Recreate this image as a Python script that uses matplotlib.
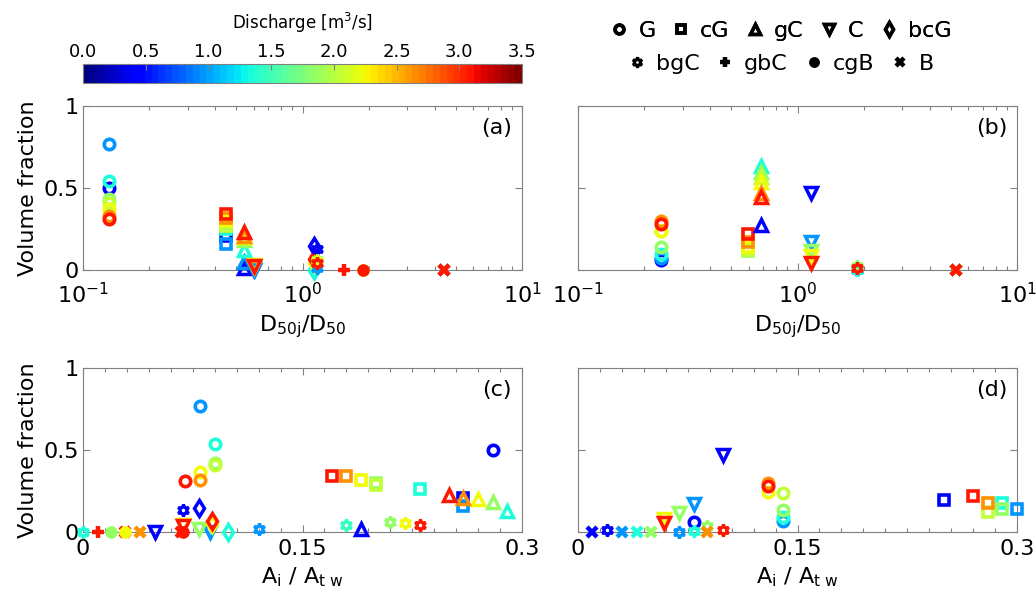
import numpy as np
import matplotlib
matplotlib.use('Agg')
import matplotlib.pyplot as plt
from matplotlib.colors import Normalize
from matplotlib.cm import ScalarMappable
from matplotlib.lines import Line2D
from matplotlib.ticker import MultipleLocator, FixedLocator, FixedFormatter, LogLocator, NullLocator, NullFormatter

plt.rcParams['font.family'] = ['DejaVu Sans']
plt.rcParams['mathtext.fontset'] = 'dejavusans'

# ---------------- data ----------------
classes = ['G', 'cG', 'gC', 'C', 'bcG', 'bgC', 'gbC', 'cgB', 'B']

# panel (a): D50j/D50 vs volume fraction
a_cls = ['G', 'G', 'G', 'G', 'G', 'G', 'G', 'G',
         'cG', 'cG', 'cG', 'cG', 'cG', 'cG', 'cG', 'cG',
         'gC', 'gC', 'gC', 'gC', 'gC', 'gC', 'gC',
         'C', 'C', 'C', 'C', 'C', 'C',
         'bcG', 'bcG', 'bcG', 'bcG', 'bcG',
         'bgC', 'bgC', 'bgC', 'bgC', 'bgC', 'bgC',
         'gbC',
         'cgB', 'cgB', 'cgB',
         'B', 'B', 'B']
a_x = [0.131, 0.131, 0.131, 0.131, 0.131, 0.131, 0.131, 0.131,
       0.447, 0.447, 0.447, 0.447, 0.447, 0.447, 0.447, 0.447,
       0.543, 0.543, 0.543, 0.543, 0.543, 0.543, 0.543,
       0.603, 0.603, 0.603, 0.603, 0.603, 0.603,
       1.13, 1.13, 1.13, 1.13, 1.13,
       1.16, 1.16, 1.16, 1.16, 1.16, 1.16,
       1.55,
       1.89, 1.89, 1.89,
       4.4, 4.4, 4.4]
a_y = [0.50, 0.77, 0.54, 0.43, 0.41, 0.37, 0.33, 0.31,
       0.21, 0.16, 0.25, 0.28, 0.27, 0.30, 0.32, 0.34,
       0.01, 0.05, 0.12, 0.18, 0.20, 0.21, 0.23,
       0.00, 0.00, 0.02, 0.03, 0.02, 0.025,
       0.145, 0.00, 0.00, 0.045, 0.065,
       0.13, 0.015, 0.04, 0.06, 0.055, 0.04,
       0.00,
       0.00, 0.00, 0.00,
       0.00, 0.00, 0.00]
a_q = [0.4, 0.95, 1.35, 1.85, 2.05, 2.25, 2.65, 3.1,
       0.4, 0.95, 1.35, 1.85, 2.05, 2.25, 2.65, 3.1,
       0.4, 0.95, 1.35, 1.85, 2.25, 2.65, 3.1,
       0.4, 0.95, 1.85, 2.25, 2.65, 3.1,
       0.4, 0.95, 1.35, 2.25, 3.1,
       0.4, 0.95, 1.35, 1.85, 2.25, 3.1,
       3.1,
       1.85, 2.25, 3.1,
       0.4, 2.65, 3.1]

# panel (b): D50j/D50 vs volume fraction
b_cls = ['G', 'G', 'G', 'G', 'G', 'G', 'G', 'G',
         'cG', 'cG', 'cG', 'cG', 'cG',
         'gC', 'gC', 'gC', 'gC', 'gC', 'gC', 'gC',
         'C', 'C', 'C', 'C', 'C',
         'bgC', 'bgC', 'bgC', 'bgC', 'bgC',
         'B', 'B', 'B', 'B', 'B', 'B']
b_x = [0.239, 0.239, 0.239, 0.239, 0.239, 0.239, 0.239, 0.239,
       0.597, 0.597, 0.597, 0.597, 0.597,
       0.681, 0.681, 0.681, 0.681, 0.681, 0.681, 0.681,
       1.15, 1.15, 1.15, 1.15, 1.15,
       1.87, 1.87, 1.87, 1.87, 1.87,
       5.3, 5.3, 5.3, 5.3, 5.3, 5.3]
b_y = [0.06, 0.075, 0.10, 0.139, 0.235, 0.24, 0.30, 0.28,
       0.118, 0.125, 0.143, 0.17, 0.22,
       0.276, 0.633, 0.60, 0.565, 0.537, 0.47, 0.445,
       0.47, 0.173, 0.116, 0.086, 0.04,
       0.00, 0.00, 0.00, 0.027, 0.014,
       0.00, 0.00, 0.00, 0.00, 0.00, 0.00]
b_q = [0.4, 0.95, 1.35, 1.85, 2.05, 2.25, 2.65, 3.1,
       1.85, 2.05, 2.25, 2.65, 3.1,
       0.4, 1.35, 1.85, 2.05, 2.25, 2.65, 3.1,
       0.4, 0.95, 1.85, 2.25, 3.1,
       0.4, 0.95, 1.35, 1.85, 3.1,
       0.4, 0.95, 1.35, 1.85, 2.65, 3.1]

# panel (c): Ai/Atw vs volume fraction
c_cls = ['G', 'G', 'G', 'G', 'G', 'G', 'G', 'G',
         'cG', 'cG', 'cG', 'cG', 'cG', 'cG', 'cG', 'cG',
         'gC', 'gC', 'gC', 'gC', 'gC', 'gC',
         'C', 'C', 'C', 'C', 'C',
         'bcG', 'bcG', 'bcG', 'bcG',
         'bgC', 'bgC', 'bgC', 'bgC', 'bgC', 'bgC', 'bgC',
         'gbC',
         'B', 'B', 'B',
         'cgB', 'cgB', 'cgB']
c_x = [0.28, 0.080, 0.090, 0.090, 0.090, 0.080, 0.080, 0.070,
       0.26, 0.26, 0.23, 0.20, 0.20, 0.19, 0.18, 0.17,
       0.19, 0.29, 0.28, 0.27, 0.26, 0.25,
       0.049, 0.087, 0.079, 0.068, 0.068,
       0.079, 0.099, 0.088, 0.088,
       0.068, 0.12, 0.0, 0.18, 0.21, 0.22, 0.23,
       0.010,
       0.029, 0.039, 0.067,
       0.019, 0.029, 0.068]
c_y = [0.50, 0.768, 0.539, 0.423, 0.407, 0.366, 0.319, 0.309,
       0.21, 0.157, 0.26, 0.30, 0.285, 0.317, 0.341, 0.341,
       0.02, 0.126, 0.183, 0.203, 0.207, 0.228,
       0.0, 0.0, 0.018, 0.04, 0.036,
       0.146, 0.0, 0.05, 0.069,
       0.134, 0.016, 0.0, 0.04, 0.061, 0.055, 0.04,
       0.0,
       0.0, 0.0, 0.0,
       0.0, 0.0, 0.0]
c_q = [0.4, 0.95, 1.35, 1.85, 2.05, 2.25, 2.65, 3.1,
       0.4, 0.95, 1.35, 1.85, 2.05, 2.25, 2.65, 3.1,
       0.4, 1.35, 1.85, 2.25, 2.65, 3.1,
       0.4, 0.95, 1.85, 2.25, 3.1,
       0.4, 1.35, 2.25, 3.1,
       0.4, 0.95, 1.35, 1.45, 1.85, 2.25, 3.1,
       3.1,
       3.1, 2.65, 3.1,
       1.85, 2.25, 3.1]

# panel (d): Ai/Atw vs volume fraction
d_cls = ['G', 'G', 'G', 'G', 'G', 'G', 'G', 'G',
         'cG', 'cG', 'cG', 'cG', 'cG', 'cG', 'cG',
         'C', 'C', 'C', 'C', 'C',
         'bgC', 'bgC', 'bgC', 'bgC', 'bgC',
         'B', 'B', 'B', 'B', 'B']
d_x = [0.079, 0.14, 0.14, 0.14, 0.14, 0.13, 0.13, 0.13,
       0.25, 0.30, 0.29, 0.29, 0.28, 0.28, 0.27,
       0.099, 0.079, 0.069, 0.059, 0.059,
       0.02, 0.069, 0.079, 0.088, 0.099,
       0.0095, 0.03, 0.04, 0.05, 0.088]
d_y = [0.063, 0.067, 0.09, 0.136, 0.238, 0.245, 0.30, 0.278,
       0.197, 0.138, 0.177, 0.138, 0.12, 0.177, 0.22,
       0.467, 0.173, 0.116, 0.08, 0.053,
       0.01, 0.0, 0.005, 0.035, 0.01,
       0.0, 0.0, 0.0, 0.0, 0.0]
d_q = [0.4, 0.95, 1.35, 1.85, 2.05, 2.25, 2.65, 3.1,
       0.4, 0.95, 1.35, 1.85, 2.05, 2.65, 3.1,
       0.4, 0.95, 1.85, 2.25, 3.1,
       0.4, 0.95, 1.35, 1.85, 3.1,
       0.4, 0.95, 1.35, 1.85, 2.65]

q_min, q_max = 0.0, 3.5
cbar_ticks = [0.0, 0.5, 1.0, 1.5, 2.0, 2.5, 3.0, 3.5]
panel_labels = ['(a)', '(b)', '(c)', '(d)']

# ---------------- styles ----------------
STYLE = {
    'G':   dict(marker='o', ms=7.5, mew=2.6, filled=False),
    'cG':  dict(marker='s', ms=7, mew=2.6, filled=False),
    'gC':  dict(marker='^', ms=8, mew=2.5, filled=False),
    'C':   dict(marker='v', ms=8, mew=2.5, filled=False),
    'bcG': dict(marker='d', ms=8.5, mew=2.5, filled=False),
    'bgC': dict(marker=(6, 1, 0), ms=8.5, mew=2.2, filled=False),
    'gbC': dict(marker='+', ms=8.5, mew=3.2, filled=False),
    'cgB': dict(marker='o', ms=8, mew=1.0, filled=True),
    'B':   dict(marker='x', ms=7, mew=3.2, filled=False),
}

cmap = plt.get_cmap('jet')
norm = Normalize(q_min, q_max)

fig = plt.figure(figsize=(10.36, 5.99), dpi=100)
W, H = 1036.0, 599.0

def ax_rect(l, r, t, b):
    return [l / W, 1 - b / H, (r - l) / W, (b - t) / H]

axes = [fig.add_axes(ax_rect(83, 522, 106, 270)),
        fig.add_axes(ax_rect(578, 1017, 106, 270)),
        fig.add_axes(ax_rect(83, 522, 368, 532)),
        fig.add_axes(ax_rect(578, 1017, 368, 532))]

data = [(a_cls, a_x, a_y, a_q), (b_cls, b_x, b_y, b_q),
        (c_cls, c_x, c_y, c_q), (d_cls, d_x, d_y, d_q)]

spine_col = '0.5'
FS = 16

for i, (ax, (cl, xs, ys, qs)) in enumerate(zip(axes, data)):
    for c, x, y, q in zip(cl, xs, ys, qs):
        st = STYLE[c]
        col = cmap(norm(q))
        ax.plot([x], [y], ls='none', marker=st['marker'], ms=st['ms'], mew=st['mew'],
                mec=col, mfc=col if st['filled'] else 'none', clip_on=False, zorder=3)
    ax.set_ylim(0, 1)
    if i < 2:
        ax.set_xscale('log')
        ax.set_xlim(0.1, 10)
        ax.xaxis.set_major_locator(LogLocator(base=10, numticks=5))
        ax.xaxis.set_minor_locator(LogLocator(base=10, subs=np.arange(2, 10), numticks=20))
        ax.xaxis.set_minor_formatter(NullFormatter())
        ax.set_xlabel(r'$\mathrm{D_{50j}/D_{50}}$', fontsize=FS, labelpad=4)
        xpad = 9
    else:
        ax.set_xlim(0, 0.3)
        ax.xaxis.set_major_locator(FixedLocator([0, 0.15, 0.3]))
        ax.xaxis.set_major_formatter(FixedFormatter(['0', '0.15', '0.3']))
        ax.xaxis.set_minor_locator(MultipleLocator(0.015))
        ax.set_xlabel(r'$\mathrm{A_i\ /\ A_{t\ w}}$', fontsize=FS, labelpad=5)
        xpad = 5
    ax.yaxis.set_major_locator(FixedLocator([0, 0.5, 1]))
    ax.yaxis.set_minor_locator(NullLocator())
    if i % 2 == 0:
        ax.yaxis.set_major_formatter(FixedFormatter(['0', '0.5', '1']))
        ax.set_ylabel('Volume fraction', fontsize=FS, labelpad=4)
    else:
        ax.yaxis.set_major_formatter(NullFormatter())
    ax.tick_params(which='both', direction='in', top=True, right=True, color=spine_col,
                   labelsize=FS)
    ax.tick_params(axis='y', pad=3)
    ax.tick_params(axis='x', pad=xpad)
    ax.tick_params(which='major', length=5, width=0.8)
    ax.tick_params(which='minor', length=3, width=0.8)
    for sp in ax.spines.values():
        sp.set_color(spine_col)
        sp.set_linewidth(0.8)
    ax.text(0.943, 0.866, panel_labels[i], transform=ax.transAxes, fontsize=FS,
            ha='center', va='center')

# colorbar
cax = fig.add_axes(ax_rect(83, 522, 64, 83))
sm = ScalarMappable(norm=norm, cmap=plt.get_cmap('jet', 64))
cb = fig.colorbar(sm, cax=cax, orientation='horizontal', ticks=cbar_ticks)
cb.ax.xaxis.set_ticks_position('top')
cb.ax.xaxis.set_label_position('top')
cb.ax.set_xticklabels(['%.1f' % t for t in cbar_ticks])
cb.ax.tick_params(direction='in', length=4, color=spine_col, labelsize=13, pad=2)
cb.outline.set_edgecolor(spine_col)
cb.outline.set_linewidth(0.8)
cb.set_label(r'Discharge [m$^3$/s]', fontsize=12, labelpad=10)

# legends
def handle(c):
    st = STYLE[c]
    return Line2D([], [], ls='none', marker=st['marker'], ms=st['ms'] * 0.85,
                  mew=st['mew'], mec='black', mfc='black' if st['filled'] else 'none')

row1 = classes[:5]
row2 = classes[5:]
leg1 = fig.legend([handle(c) for c in row1], row1, loc='center', bbox_to_anchor=(781 / W, 1 - 31 / H),
                  ncol=5, frameon=False, fontsize=FS, handlelength=0.8, handletextpad=0.45,
                  columnspacing=0.75, borderpad=0)
leg2 = fig.legend([handle(c) for c in row2], row2, loc='center', bbox_to_anchor=(781 / W, 1 - 64 / H),
                  ncol=4, frameon=False, fontsize=FS, handlelength=0.8, handletextpad=0.45,
                  columnspacing=0.75, borderpad=0)
fig.add_artist(leg1)

fig.savefig('out.png', dpi=100)
